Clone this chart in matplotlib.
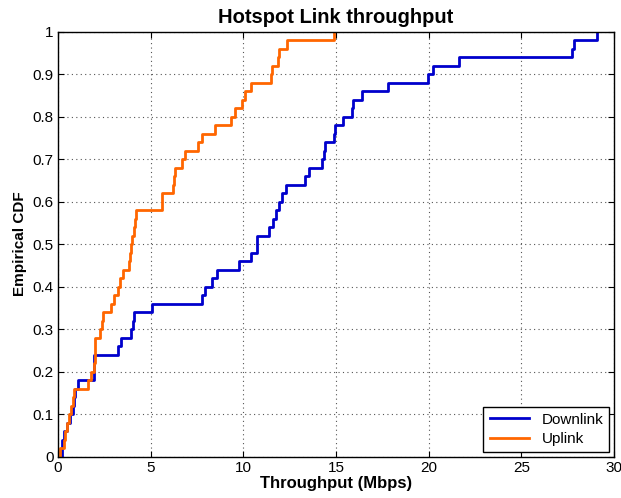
import numpy as np
import matplotlib
matplotlib.use('Agg')
import matplotlib.pyplot as plt

# throughput samples (Mbps)
downlink = [0.2, 0.2, 0.34, 0.5, 0.65, 0.8, 0.85, 0.92, 1.1, 1.96,
            1.96, 1.96, 3.26, 3.4, 3.94, 4.05, 4.12, 5.05, 7.79, 7.93,
            8.29, 8.6, 9.75, 10.4, 10.72, 10.74, 11.41, 11.59, 11.77, 11.9,
            12.07, 12.3, 13.33, 13.56, 14.26, 14.36, 14.41, 14.9, 14.95, 15.4,
            15.85, 15.94, 16.39, 17.79, 19.99, 20.26, 21.66, 27.76, 27.85, 29.08]

uplink = [0.09, 0.3, 0.38, 0.5, 0.6, 0.7, 0.8, 0.85, 1.64, 1.8,
          1.96, 1.98, 2.0, 2.02, 2.27, 2.4, 2.45, 2.86, 3.0, 3.22,
          3.35, 3.53, 3.85, 3.86, 3.92, 3.97, 4.1, 4.15, 4.2, 5.6,
          5.63, 6.2, 6.25, 6.3, 6.7, 6.87, 7.54, 7.75, 8.45, 9.35,
          9.55, 9.93, 10.09, 10.4, 11.5, 11.55, 11.85, 11.9, 12.38, 14.88]

series_names = ['Downlink', 'Uplink']
series_colors = ['#0000cc', '#ff6600']

plt.rcParams['font.family'] = ['Liberation Sans', 'DejaVu Sans']

fig = plt.figure(figsize=(6.21, 4.98), dpi=100)
ax = fig.add_axes([0.0934, 0.083, 0.8953, 0.8534])


def ecdf_xy(samples):
    x = np.sort(np.asarray(samples, dtype=float))
    y = np.arange(1, len(x) + 1) / len(x)
    return np.concatenate([[x[0]], x]), np.concatenate([[0.0], y])


for data, name, col in zip([downlink, uplink], series_names, series_colors):
    xs, ys = ecdf_xy(data)
    ax.step(xs, ys, where='post', color=col, lw=2, label=name)

ax.set_xlim(0, 30)
ax.set_ylim(0, 1)
ax.set_xticks(np.arange(0, 31, 5))
ax.set_yticks(np.arange(0, 1.01, 0.1))
ax.set_yticklabels(['0', '0.1', '0.2', '0.3', '0.4', '0.5', '0.6', '0.7', '0.8', '0.9', '1'])
ax.tick_params(direction='in', top=True, right=True, labelsize=11, length=4, pad=3)
ax.grid(True, color='#555555', linestyle=(0, (1, 3)), linewidth=0.8)
for s in ax.spines.values():
    s.set_linewidth(1.0)

ax.set_title('Hotspot Link throughput', fontsize=14.5, fontweight='bold', pad=6)
ax.set_xlabel('Throughput (Mbps)', fontsize=12, fontweight='bold', labelpad=1)
ax.set_ylabel('Empirical CDF', fontsize=11, fontweight='bold', labelpad=4)

leg = ax.legend(loc='lower right', fontsize=11, fancybox=False, framealpha=1,
                edgecolor='black', borderaxespad=0.3, handlelength=2.6,
                borderpad=0.4, labelspacing=0.35)
leg.get_frame().set_linewidth(1.0)

fig.savefig('out.png', dpi=100)
